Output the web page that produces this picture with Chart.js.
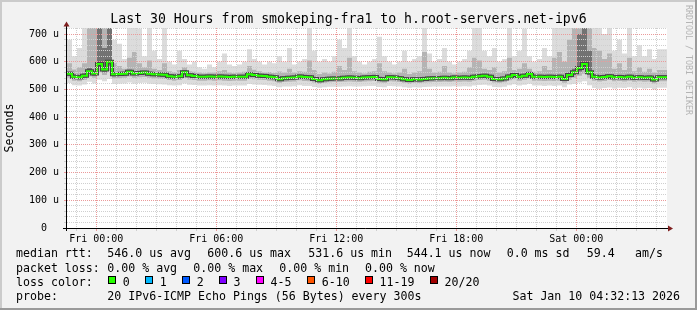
<!DOCTYPE html>
<html><head><meta charset="utf-8">
<script src="https://cdn.jsdelivr.net/npm/chart.js@4.4.1/dist/chart.umd.min.js"></script>
<style>
html,body{margin:0;padding:0;background:#f2f2f2;}
#wrap{position:relative;width:697px;height:310px;overflow:hidden;}
canvas{position:absolute;left:0;top:0;}
.t{position:absolute;font-family:'DejaVu Sans Mono',monospace;font-size:11.6px;line-height:14px;white-space:pre;color:#000;}
.box{position:absolute;width:8px;height:8px;box-sizing:border-box;border:1px solid #000;}
#rrd{position:absolute;left:684px;top:5px;writing-mode:vertical-rl;font-family:'DejaVu Sans Mono',monospace;font-size:8.3px;line-height:9px;color:#b4b4b4;white-space:pre;}
</style></head>
<body><div id="wrap"><canvas id="c" width="697" height="310"></canvas><div id="rrd">RRDTOOL / TOBI OETIKER</div><div id="legend"></div></div>
<script>
// ---- time axis (hours relative to Fri 00:00), 15-minute buckets ----
const startHour = -1.4636;
const endHour = 28.5364;
const stepHour = 0.25;
const xMajorHours = [0, 6, 12, 18, 24];
const xTickLabels = ['Fri 00:00', 'Fri 06:00', 'Fri 12:00', 'Fri 18:00', 'Sat 00:00'];
const yTickValues = [0, 100, 200, 300, 400, 500, 600, 700];
const yTickLabels = ['0  ', '100 u', '200 u', '300 u', '400 u', '500 u', '600 u', '700 u'];

// ---- median rtt (us) ----
const med = [558,557,546,544,550,566,558,592,572,600,
555,556,557,564,558,560,561,557,555,554,
553,548,546,548,562,551,549,546,546,547,
546,547,546,545,546,546,546,555,552,550,
549,546,544,537,541,542,543,547,545,544,
538,533,537,539,540,540,542,543,542,541,
543,544,545,538,537,544,543,541,537,534,
537,536,538,540,541,541,542,541,543,542,
543,542,546,548,550,546,538,537,540,547,
552,546,550,556,546,546,545,546,545,546,
538,552,562,578,592,562,546,543,545,548,
544,545,543,546,542,544,542,543,536,544];

// ---- smoke: inner band (dark) ----
const q1 = [551,550,539,537,543,556,550,580,562,586,
548,549,550,556,551,553,554,550,548,547,
546,541,539,541,553,544,542,539,539,540,
539,540,539,538,539,539,539,547,545,543,
542,539,537,530,534,535,536,540,538,537,
531,526,530,532,533,533,535,536,535,534,
536,537,538,531,530,537,536,534,530,527,
530,529,531,533,534,534,535,534,536,535,
536,535,539,541,543,539,531,530,533,540,
545,539,543,548,539,539,538,539,538,539,
531,544,552,565,575,552,539,536,538,541,
537,538,536,539,535,537,535,536,529,537];
const q3 = [566,565,555,552,559,578,567,740,650,740,
563,564,565,572,566,568,569,565,563,562,
561,556,554,556,570,559,557,554,554,555,
554,555,554,553,554,554,554,563,560,558,
557,554,552,546,549,550,551,555,553,552,
546,542,545,547,548,548,550,551,550,549,
551,552,553,546,545,552,551,549,545,543,
545,544,546,548,549,549,550,549,551,550,
551,550,554,556,558,554,546,545,548,555,
560,554,558,564,554,554,553,554,553,554,
546,561,575,700,740,640,555,551,553,556,
552,553,551,554,550,552,550,551,545,552];

// ---- smoke: middle band ----
const l2 = [542,542,532,530,535,547,542,562,552,567,
540,541,542,547,542,544,545,542,540,539,
538,534,532,534,542,536,534,532,532,533,
532,533,532,531,532,532,532,539,537,535,
534,532,530,524,527,528,529,533,531,530,
525,521,524,526,527,527,528,529,528,527,
529,530,531,525,524,530,529,527,524,521,
524,523,525,526,527,527,528,527,529,528,
529,528,532,534,535,532,525,524,526,533,
537,532,535,540,532,532,531,532,531,532,
524,535,542,550,557,542,532,529,531,534,
530,531,529,532,528,530,528,529,522,530];
const up = [578,595,572,580,595,740,740,740,740,740,
595,585,575,615,635,595,580,605,575,570,
595,566,562,570,580,566,564,561,559,561,
561,566,570,561,559,561,564,585,571,566,
561,563,560,565,561,575,561,566,564,605,
570,556,561,558,564,585,570,615,566,561,
558,564,566,595,566,561,558,561,575,556,
561,566,635,575,561,564,585,561,558,561,
564,580,615,605,575,570,580,561,566,615,
570,575,595,575,564,566,585,570,615,635,
600,680,740,740,740,740,650,640,610,630,
575,595,570,615,566,580,564,575,561,570];

// ---- smoke: outer band (min / max ping) ----
const lo = [522,523,515,514,518,528,522,535,530,538,
520,521,522,525,521,523,524,521,520,519,
518,515,514,515,522,517,516,514,514,515,
514,515,514,513,514,514,514,520,518,517,
516,514,513,508,511,511,512,515,513,513,
509,506,508,510,510,510,511,512,511,511,
512,513,513,509,508,513,512,511,508,506,
508,507,509,510,511,511,511,511,512,511,
512,511,514,516,517,514,509,508,510,515,
519,514,517,521,514,514,513,514,513,514,
508,518,520,525,530,515,505,503,505,507,
504,506,505,508,504,506,504,505,500,506];
const hi = [640,680,620,650,740,700,740,740,740,740,
680,665,610,740,740,720,620,740,640,610,
740,600,590,640,610,590,600,580,575,590,
580,600,630,590,585,590,600,645,610,600,
590,600,595,620,600,650,590,600,610,740,
640,600,610,600,620,680,650,740,620,600,
590,600,610,690,620,600,590,600,640,600,
610,620,740,630,600,610,650,600,590,600,
610,640,740,740,640,620,650,600,610,740,
620,640,720,620,600,610,650,620,740,740,
740,740,740,740,740,740,740,740,700,740,
640,680,630,740,620,660,620,645,610,645];

// ---- legend texts ----
const medianStats = ['546.0 us avg','600.6 us max','531.6 us min','544.1 us now','0.0 ms sd','59.4','am/s'];
const lossStats = ['0.00 % avg','0.00 % max','0.00 % min','0.00 % now'];
const lossLabels = ['0','1','2','3','4-5','6-10','11-19','20/20'];
const lossColors = ['#26ff00','#00b8ff','#0059ff','#7e00ff','#ff00ff','#ff5500','#ff0000','#a10000'];
const probeText = '20 IPv6-ICMP Echo Pings (56 Bytes) every 300s';
const dateText = 'Sat Jan 10 04:32:13 2026';
const titleText = 'Last 30 Hours from smokeping-fra1 to h.root-servers.net-ipv6';

// ---- build legend (HTML) ----
const medianX = [107.3, 207.3, 308.3, 406.7, 506.7, 586.7, 635];
const lossX = [107.3, 193.3, 279.3, 365];
const boxX = [108.3, 145.3, 182.3, 219, 256, 307.3, 365, 430];
const rowTop = [246.3, 260.5, 274.7, 289];
const L = document.getElementById('legend');
function span(x, y, txt, right) {
  const s = document.createElement('div');
  s.className = 't';
  if (right) s.style.right = x + 'px'; else s.style.left = x + 'px';
  s.style.top = y + 'px';
  s.textContent = txt;
  L.appendChild(s);
}
span(16, rowTop[0], 'median rtt:');
medianStats.forEach((t, i) => span(medianX[i], rowTop[0], t));
span(16, rowTop[1], 'packet loss:');
lossStats.forEach((t, i) => span(lossX[i], rowTop[1], t));
span(16, rowTop[2], 'loss color:');
lossLabels.forEach((t, i) => {
  const b = document.createElement('div');
  b.className = 'box';
  b.style.left = boxX[i] + 'px';
  b.style.top = '276px';
  b.style.background = lossColors[i];
  L.appendChild(b);
  span(boxX[i] + 14.5, rowTop[2], t);
});
span(16, rowTop[3], 'probe:');
span(107.3, rowTop[3], probeText);
span(17, rowTop[3], dateText, true);

// ---- chart ----
const times = med.map((_, i) => startHour + i * stepHour);
function pts(arr) {
  return times.map((t, i) => ({x: t, y: arr[i]})).concat([{x: endHour, y: arr[arr.length - 1]}]);
}
const base = {stepped: 'after', pointRadius: 0, borderWidth: 0, borderColor: 'rgba(0,0,0,0)', tension: 0, yAxisID: 'y'};
const MINOR = '#cfcfcf';
const MAJOR = '#eb9a9a';

const framePlugin = {
  id: 'frame',
  beforeDraw(chart) {
    const {ctx, chartArea: a, width, height} = chart;
    ctx.save();
    ctx.fillStyle = '#f2f2f2'; ctx.fillRect(0, 0, width, height);
    ctx.fillStyle = '#cbcbcb'; ctx.fillRect(0, 0, width, 2); ctx.fillRect(0, 0, 2, height);
    ctx.fillStyle = '#9a9a9a'; ctx.fillRect(0, height - 2, width, 2); ctx.fillRect(width - 2, 0, 2, height);
    ctx.fillStyle = '#ffffff'; ctx.fillRect(a.left, a.top, a.right - a.left, a.bottom - a.top);
    ctx.restore();
  },
  afterDraw(chart) {
    const {ctx, chartArea: a} = chart;
    ctx.save();
    ctx.strokeStyle = '#000'; ctx.lineWidth = 1;
    ctx.beginPath();
    ctx.moveTo(a.left - 4, a.bottom + 0.5); ctx.lineTo(a.right + 1, a.bottom + 0.5);
    ctx.moveTo(a.left - 0.5, a.bottom + 3); ctx.lineTo(a.left - 0.5, a.top - 2);
    ctx.stroke();
    ctx.fillStyle = '#7f1f1f';
    ctx.beginPath();
    ctx.moveTo(a.right + 6, a.bottom + 0.5); ctx.lineTo(a.right + 1, a.bottom - 2.5); ctx.lineTo(a.right + 1, a.bottom + 3.5); ctx.closePath();
    ctx.fill();
    ctx.beginPath();
    ctx.moveTo(a.left - 0.5, a.top - 6.5); ctx.lineTo(a.left - 3.5, a.top - 1.5); ctx.lineTo(a.left + 2.5, a.top - 1.5); ctx.closePath();
    ctx.fill();
    ctx.restore();
  }
};

new Chart(document.getElementById('c'), {
  type: 'line',
  data: {
    datasets: [
      Object.assign({}, base, {data: pts(lo), order: 7}),
      Object.assign({}, base, {data: pts(hi), order: 6, fill: 0, backgroundColor: '#dcdcdc'}),
      Object.assign({}, base, {data: pts(l2), order: 5}),
      Object.assign({}, base, {data: pts(up), order: 4, fill: 2, backgroundColor: '#b4b4b4'}),
      Object.assign({}, base, {data: pts(q1), order: 3}),
      Object.assign({}, base, {data: pts(q3), order: 2, fill: 4, backgroundColor: '#727272'}),
      Object.assign({}, base, {data: pts(med), order: 1, borderWidth: 4, borderColor: '#444444'}),
      Object.assign({}, base, {data: pts(med), order: 0, borderWidth: 2, borderColor: '#26ff00'})
    ]
  },
  options: {
    responsive: false,
    animation: false,
    events: [],
    devicePixelRatio: 1,
    layout: {padding: {left: 0, right: 0, top: 0, bottom: 62}},
    plugins: {
      legend: {display: false},
      tooltip: {enabled: false},
      title: {
        display: true, text: titleText, color: '#000',
        font: {family: 'DejaVu Sans Mono', size: 13.2, weight: 'normal', lineHeight: 1},
        padding: {top: 12.9, bottom: 1.9}
      }
    },
    scales: {
      x: {
        type: 'linear', min: startHour, max: endHour, offset: false,
        afterBuildTicks(s) {
          const t = [];
          for (let h = Math.ceil(startHour); h <= endHour; h++) t.push({value: h});
          s.ticks = t;
        },
        afterFit(s) { s.height = 20; },
        grid: {
          z: 1, lineWidth: 1, tickLength: 3, drawTicks: true,
          color: c => (xMajorHours.includes(c.tick && c.tick.value) ? MAJOR : MINOR),
          tickColor: c => (xMajorHours.includes(c.tick && c.tick.value) ? MAJOR : MINOR)
        },
        border: {display: false, dash: [1, 1]},
        ticks: {
          autoSkip: false, maxRotation: 0, minRotation: 0, padding: 2, color: '#000',
          font: {family: 'DejaVu Sans Mono', size: 10},
          callback: v => { const i = xMajorHours.indexOf(v); return i >= 0 ? xTickLabels[i] : ''; }
        }
      },
      y: {
        type: 'linear', position: 'left', min: 0, max: 722,
        afterBuildTicks(s) {
          const t = [];
          for (let v = 0; v <= 720; v += 20) t.push({value: v});
          s.ticks = t;
        },
        afterFit(s) { s.width = 67; },
        grid: {
          z: 1, lineWidth: 1, tickLength: 3, drawTicks: true,
          color: c => (c.tick && c.tick.value % 100 === 0 ? MAJOR : MINOR),
          tickColor: c => (c.tick && c.tick.value % 100 === 0 ? MAJOR : MINOR)
        },
        border: {display: false, dash: [1, 1]},
        title: {
          display: true, text: 'Seconds', color: '#000',
          font: {family: 'DejaVu Sans Mono', size: 11.6},
          padding: {top: 3, bottom: 0}
        },
        ticks: {
          autoSkip: false, padding: 5, color: '#000',
          font: {family: 'DejaVu Sans Mono', size: 10},
          callback: v => { const i = yTickValues.indexOf(v); return i >= 0 ? yTickLabels[i] : ''; }
        }
      },
      yRight: {
        type: 'linear', position: 'right', min: 0, max: 1,
        afterFit(s) { s.width = 30; },
        grid: {display: false, drawOnChartArea: false},
        border: {display: false},
        ticks: {display: false}
      }
    }
  },
  plugins: [framePlugin]
});
</script></body></html>
